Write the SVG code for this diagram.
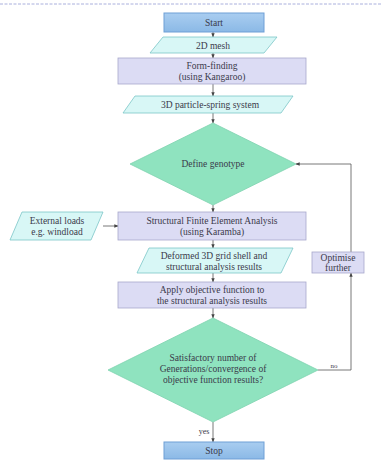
<svg xmlns="http://www.w3.org/2000/svg" width="382" height="466" viewBox="0 0 382 466" font-family="'Liberation Serif', 'DejaVu Serif', serif">
<defs>
<linearGradient id="blue" x1="0" y1="0" x2="0" y2="1">
<stop offset="0" stop-color="#a9cdf0"/>
<stop offset="1" stop-color="#8bb9e6"/>
</linearGradient>
<marker id="arr" viewBox="0 0 6 6" refX="5.5" refY="3" markerWidth="5" markerHeight="5" orient="auto">
<path d="M0,0.5 L6,3 L0,5.5 z" fill="#444"/>
</marker>
<style>
text{font-family:'Liberation Serif','DejaVu Serif',serif;font-size:9.5px;fill:#3a3a4a;text-anchor:middle}
.term{fill:url(#blue);stroke:#6e9fd6;stroke-width:1}
.io{fill:#d8f7f6;stroke:#7cc6c8;stroke-width:0.8}
.proc{fill:#dcdcf4;stroke:#a8a8cc;stroke-width:0.8}
.dec{fill:#8fe3bf;stroke:#7fd3b0;stroke-width:0.8}
.ln{fill:none;stroke:#555;stroke-width:0.8;marker-end:url(#arr)}
</style>
</defs>
<rect width="382" height="466" fill="#ffffff"/>
<line x1="0" y1="4" x2="382" y2="4" stroke="#aab0dd" stroke-width="1" stroke-dasharray="3,1.5"/>
<g id="connectors">
<line class="ln" x1="213" y1="32" x2="213" y2="37"/>
<line class="ln" x1="213" y1="53" x2="213" y2="58"/>
<line class="ln" x1="213" y1="84" x2="213" y2="96"/>
<line class="ln" x1="213" y1="113" x2="213" y2="123"/>
<line class="ln" x1="213" y1="205" x2="213" y2="212"/>
<line class="ln" x1="103" y1="226" x2="118" y2="226"/>
<line class="ln" x1="213" y1="240" x2="213" y2="248"/>
<line class="ln" x1="213" y1="273" x2="213" y2="282"/>
<line class="ln" x1="213" y1="308" x2="213" y2="318"/>
<line class="ln" x1="213" y1="422" x2="213" y2="442"/>
<polyline class="ln" points="318,370 351,370 351,273"/>
<polyline class="ln" points="351,252 351,164 296,164"/>
<text x="334" y="368" style="font-size:7px">no</text>
<text x="204" y="434" style="font-size:8px">yes</text>
</g>
<g id="start">
<rect class="term" x="164" y="13" width="100" height="19"/>
<text x="214" y="26">Start</text>
</g>
<g id="mesh2d">
<polygon class="io" points="163,37 277,37 264,53 150,53"/>
<text x="213" y="48.5">2D mesh</text>
</g>
<g id="formfinding">
<rect class="proc" x="118" y="58" width="188" height="26"/>
<text x="212" y="69">Form-finding</text>
<text x="212" y="80">(using Kangaroo)</text>
</g>
<g id="particle">
<polygon class="io" points="135,96 293,96 281,113 123,113"/>
<text x="210" y="108">3D particle-spring system</text>
</g>
<g id="genotype">
<polygon class="dec" points="213,123 296,164 213,205 130,164"/>
<text x="213" y="167">Define genotype</text>
</g>
<g id="fea">
<rect class="proc" x="118" y="212" width="188" height="28"/>
<text x="212" y="223.5">Structural Finite Element Analysis</text>
<text x="212" y="235">(using Karamba)</text>
</g>
<g id="loads">
<polygon class="io" points="22,212 103,212 91,240 10,240"/>
<text x="57" y="223.5">External loads</text>
<text x="57" y="235">e.g. windload</text>
</g>
<g id="deformed">
<polygon class="io" points="149,248 293,248 281,273 137,273"/>
<text x="214" y="258.5">Deformed 3D grid shell and</text>
<text x="214" y="269.5">structural analysis results</text>
</g>
<g id="optimise">
<rect class="proc" x="312" y="252" width="52" height="21"/>
<text x="338" y="261">Optimise</text>
<text x="338" y="271">further</text>
</g>
<g id="apply">
<rect class="proc" x="118" y="282" width="188" height="26"/>
<text x="212" y="293">Apply objective function to</text>
<text x="212" y="304">the structural analysis results</text>
</g>
<g id="satisfactory">
<polygon class="dec" points="213,318 318,370 213,422 108,370"/>
<text x="213" y="361">Satisfactory number of</text>
<text x="213" y="372">Generations/convergence of</text>
<text x="213" y="383">objective function results?</text>
</g>
<g id="stop">
<rect class="term" x="164" y="442" width="100" height="17"/>
<text x="214" y="454">Stop</text>
</g>
</svg>
